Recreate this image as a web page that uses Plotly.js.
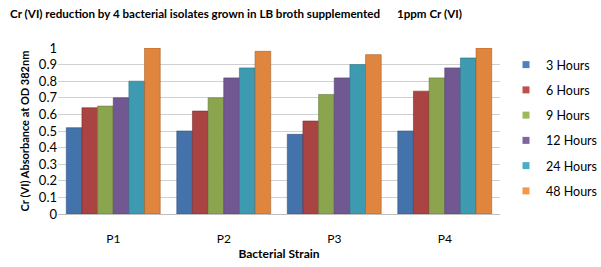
<!DOCTYPE html>
<html>
<head>
<meta charset="utf-8">
<script src="https://cdn.plot.ly/plotly-3.0.1.min.js"></script>
<style>html,body{margin:0;padding:0;background:#fff;}#chart{width:601px;height:267px;}</style>
</head>
<body>
<div id="chart"></div>
<script>
var strains = ["P1", "P2", "P3", "P4"];
var seriesNames = ["3 Hours", "6 Hours", "9 Hours", "12 Hours", "24 Hours", "48 Hours"];
var h3  = [0.52, 0.50, 0.48, 0.50];
var h6  = [0.64, 0.62, 0.56, 0.74];
var h9  = [0.65, 0.70, 0.72, 0.82];
var h12 = [0.70, 0.82, 0.82, 0.88];
var h24 = [0.80, 0.88, 0.90, 0.94];
var h48 = [1.00, 0.98, 0.96, 1.00];
var yTicks = [0, 0.1, 0.2, 0.3, 0.4, 0.5, 0.6, 0.7, 0.8, 0.9, 1];
var yTickLabels = ["0", "0.1", "0.2", "0.3", "0.4", "0.5", "0.6", "0.7", "0.8", "0.9", "1"];

var seriesValues = [h3, h6, h9, h12, h24, h48];
var barColors = ["#4472AA", "#A94442", "#8BA54E", "#715892", "#3E9AB0", "#E0853E"];
var sideColors = ["#2F5584", "#7F2E2C", "#677D37", "#53406D", "#2B7385", "#A85E25"];
var legendColors = ["#4F81BD", "#C0504D", "#9BBB59", "#8064A2", "#4BACC6", "#F79646"];
var FONT = "Lato, 'Open Sans', sans-serif";

var traces = [];
seriesValues.forEach(function (vals, i) {
  traces.push({
    type: "bar",
    name: seriesNames[i],
    x: strains,
    y: vals,
    marker: {color: barColors[i], line: {color: sideColors[i], width: 0.6}},
    showlegend: false,
    hoverinfo: "x+y+name"
  });
});
seriesValues.forEach(function (vals, i) {
  traces.push({
    type: "scatter",
    mode: "markers",
    name: seriesNames[i],
    x: [null],
    y: [null],
    marker: {symbol: "square", size: 7, color: legendColors[i]},
    legendgroup: "g" + i,
    showlegend: true,
    hoverinfo: "skip"
  });
});

var layout = {
  width: 601,
  height: 267,
  margin: {l: 58, r: 101, t: 48, b: 53},
  paper_bgcolor: "#ffffff",
  plot_bgcolor: "#ffffff",
  font: {family: FONT, size: 12, color: "#000"},
  title: {
    text: "<b>Cr (VI) reduction by 4 bacterial isolates grown in LB broth supplemented      1ppm Cr (VI)</b>",
    font: {family: FONT, size: 11.6, color: "#000"},
    xref: "container", yref: "container",
    x: 10 / 601, xanchor: "left",
    y: 1 - 14 / 267, yanchor: "middle"
  },
  barmode: "group",
  bargap: 0.15,
  bargroupgap: 0,
  xaxis: {
    type: "category",
    tickfont: {family: FONT, size: 12, color: "#000"},
    showgrid: false,
    showline: true,
    linecolor: "#BFBFBF",
    linewidth: 1,
    ticks: "",
    ticklabelstandoff: 14,
    title: {text: "<b>Bacterial Strain</b>", font: {family: FONT, size: 12, color: "#000"}, standoff: 4}
  },
  yaxis: {
    range: [0, 1.0],
    tickvals: yTicks,
    ticktext: yTickLabels,
    tickfont: {family: FONT, size: 13, color: "#000"},
    showgrid: true,
    gridcolor: "#D0D0D0",
    gridwidth: 1,
    zeroline: false,
    showline: false,
    ticks: "",
    title: {text: "<b>Cr (VI) Absorbance at OD 382nm</b>", font: {family: FONT, size: 11, color: "#000"}, standoff: 6}
  },
  legend: {
    x: 506 / 601, xref: "container", xanchor: "left",
    y: 1 - 50 / 267, yref: "container", yanchor: "top",
    font: {family: FONT, size: 12.5, color: "#000"},
    traceorder: "grouped",
    tracegroupgap: 6,
    itemwidth: 30,
    maxheight: 1,
    bgcolor: "rgba(0,0,0,0)"
  },
  showlegend: true
};

Plotly.newPlot("chart", traces, layout, {displayModeBar: false, staticPlot: true});
</script>
</body>
</html>
